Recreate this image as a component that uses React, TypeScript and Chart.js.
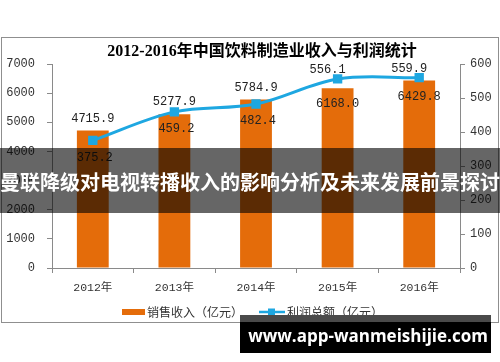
import React, { useEffect, useRef } from 'react';
import { Chart, registerables } from 'chart.js';

Chart.register(...registerables);

// ---- data ----
const years = ['2012年', '2013年', '2014年', '2015年', '2016年'];
const salesRevenue = [4715.9, 5277.9, 5784.9, 6168.0, 6429.8];
const totalProfit = [375.2, 459.2, 482.4, 556.1, 559.9];
const leftAxisMax = 7000;
const leftAxisStep = 1000;
const rightAxisMax = 600;
const rightAxisStep = 100;

// ---- text ----
const chartTitle = '2012-2016年中国饮料制造业收入与利润统计';
const salesLegend = '销售收入（亿元）';
const profitLegend = '利润总额（亿元）';
const bannerText = '曼联降级对电视转播收入的影响分析及未来发展前景探讨';
const siteText = 'www.app-wanmeishijie.com';

// ---- style ----
const ORANGE = '#E46C0A';
const BLUE = '#1EA7E1';
const AXIS = '#8a8a8a';
const TEXT = '#333333';
const MONO = '"Liberation Mono", "Noto Sans CJK SC", monospace';
const CJK = '"Noto Sans CJK SC", sans-serif';
const barLabelPlacement = ['above', 'above', 'above', 'inside', 'inside'];
const lineLabelPlacement = ['below', 'below', 'below', 'above', 'above'];

const decor = {
  id: 'decor',
  beforeDraw(chart: any) {
    const ctx = chart.ctx;
    ctx.save();
    ctx.fillStyle = '#ffffff';
    ctx.fillRect(0, 0, chart.width, chart.height);
    ctx.strokeStyle = '#8f8f8f';
    ctx.lineWidth = 1;
    ctx.strokeRect(1.5, 37.5, 497, 285);
    ctx.fillStyle = '#000';
    ctx.font = 'bold 16px "Liberation Serif", "Noto Sans CJK SC", serif';
    ctx.textAlign = 'center';
    ctx.textBaseline = 'middle';
    ctx.fillText(chartTitle, 262, 52);
    ctx.restore();
  },
  afterDatasetsDraw(chart: any) {
    const ctx = chart.ctx;
    ctx.save();
    ctx.font = '12px ' + MONO;
    ctx.fillStyle = '#222';
    ctx.textAlign = 'center';
    ctx.textBaseline = 'middle';
    const barMeta = chart.getDatasetMeta(1);
    barMeta.data.forEach((el: any, i: number) => {
      const y = barLabelPlacement[i] === 'above' ? el.y - 12 : el.y + 16;
      ctx.fillText(salesRevenue[i].toFixed(1), el.x, y);
    });
    const lineMeta = chart.getDatasetMeta(0);
    lineMeta.data.forEach((el: any, i: number) => {
      const y = lineLabelPlacement[i] === 'below' ? el.y + 17 : el.y - 9;
      const x = lineLabelPlacement[i] === 'below' ? el.x + 2 : el.x - 10;
      ctx.fillText(totalProfit[i].toFixed(1), x, y);
    });
    ctx.restore();
  },
  afterDraw(chart: any) {
    const ctx = chart.ctx;
    ctx.save();
    // legend
    const ly = 312;
    ctx.fillStyle = ORANGE;
    ctx.fillRect(122, ly - 3, 23, 6);
    ctx.font = '12px ' + CJK;
    ctx.fillStyle = TEXT;
    ctx.textAlign = 'left';
    ctx.textBaseline = 'middle';
    ctx.fillText(salesLegend, 147, ly);
    ctx.strokeStyle = BLUE;
    ctx.lineWidth = 2.5;
    ctx.beginPath();
    ctx.moveTo(259, ly);
    ctx.lineTo(285, ly);
    ctx.stroke();
    ctx.fillStyle = BLUE;
    ctx.fillRect(268, ly - 3.5, 7, 7);
    ctx.fillStyle = TEXT;
    ctx.fillText(profitLegend, 287, ly);

    // middle banner
    ctx.fillStyle = 'rgba(0,0,0,0.6)';
    ctx.fillRect(0, 148, chart.width, 65);
    ctx.fillStyle = '#ffffff';
    ctx.font = 'bold 20px ' + CJK;
    ctx.textAlign = 'center';
    ctx.textBaseline = 'middle';
    ctx.fillText(bannerText, 250, 182);

    // bottom black box
    ctx.fillStyle = '#4a4a4a';
    ctx.fillRect(240, 315, 251, 7);
    ctx.fillStyle = '#000000';
    ctx.fillRect(240, 322, 251, 31);
    ctx.fillStyle = '#ffffff';
    ctx.font = 'bold 17px "Open Sans", "DejaVu Sans", sans-serif';
    ctx.textAlign = 'center';
    ctx.textBaseline = 'middle';
    ctx.fillText(siteText, 368, 337);
    ctx.restore();
  },
};

export default function App() {
  const ref = useRef<HTMLCanvasElement>(null);
  useEffect(() => {
    const canvas = ref.current;
    if (!canvas) return;
    const chart = new Chart(canvas, {
      data: {
        labels: years,
        datasets: [
          {
            type: 'line',
            label: profitLegend,
            data: totalProfit,
            yAxisID: 'y1',
            borderColor: BLUE,
            backgroundColor: BLUE,
            borderWidth: 3,
            pointStyle: 'rect',
            pointRadius: 4.5,
            pointHoverRadius: 4.5,
            tension: 0.35,
            order: 0,
          },
          {
            type: 'bar',
            label: salesLegend,
            data: salesRevenue,
            yAxisID: 'y',
            backgroundColor: ORANGE,
            categoryPercentage: 1,
            barPercentage: 0.39,
            order: 1,
          },
        ],
      } as any,
      options: {
        responsive: false,
        animation: false,
        events: [],
        layout: { padding: { top: 64, bottom: 64, left: 0, right: 0 } },
        plugins: {
          legend: { display: false },
          title: { display: false },
          tooltip: { enabled: false },
        },
        scales: {
          x: {
            grid: { display: true, drawOnChartArea: false, offset: true, tickLength: 5, color: AXIS },
            border: { color: AXIS },
            ticks: { font: { family: MONO, size: 11.5 }, color: TEXT, padding: 8, maxRotation: 0 },
            afterFit: (s: any) => { s.height = 30; },
          },
          y: {
            position: 'left',
            min: 0,
            max: leftAxisMax,
            ticks: {
              stepSize: leftAxisStep,
              padding: 12,
              font: { family: MONO, size: 12 },
              color: TEXT,
              callback: (v: any) => String(v),
            },
            grid: { drawOnChartArea: false, tickLength: 5, color: AXIS },
            border: { color: AXIS },
            afterFit: (s: any) => { s.width = 52; },
          },
          y1: {
            position: 'right',
            min: 0,
            max: rightAxisMax,
            ticks: {
              stepSize: rightAxisStep,
              padding: 5,
              font: { family: MONO, size: 12 },
              color: TEXT,
              callback: (v: any) => String(v),
            },
            grid: { drawOnChartArea: false, tickLength: 5, color: AXIS },
            border: { color: AXIS },
            afterFit: (s: any) => { s.width = 40; },
          },
        },
      } as any,
      plugins: [decor],
    });
    return () => chart.destroy();
  }, []);
  return (
    <div style={{ position: 'fixed', left: 0, top: 0, width: 500, height: 362, background: '#fff' }}>
      <canvas ref={ref} width={500} height={362} style={{ width: 500, height: 362, display: 'block' }} />
    </div>
  );
}
